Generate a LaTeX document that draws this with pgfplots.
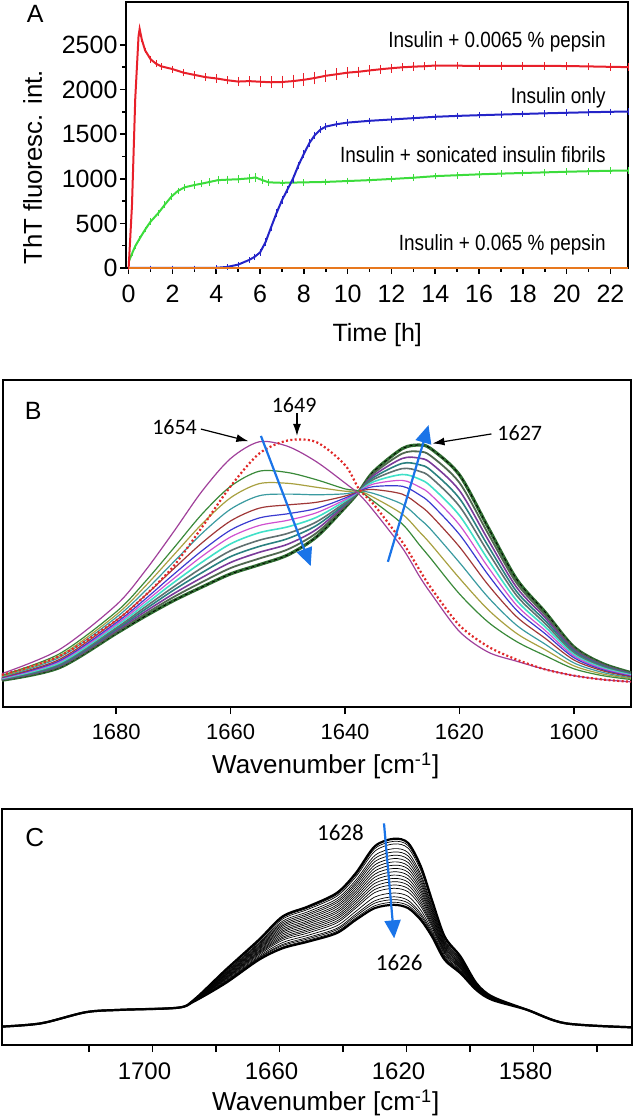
\documentclass[border=0pt]{standalone}
\usepackage{fontspec}
\setmainfont{Liberation Sans}
\newfontfamily\narrowfont[FakeStretch=0.86]{Liberation Sans}
\newfontfamily\carlito{Carlito}
\usepackage{pgfplots}
\usepackage{pgfplotstable}
\pgfplotsset{compat=1.18}
\usetikzlibrary{arrows.meta}

\definecolor{aRed}{HTML}{E8202A}
\definecolor{aBlue}{HTML}{2424C8}
\definecolor{aGreen}{HTML}{3CDC3C}
\definecolor{aOrange}{HTML}{E8781E}
\definecolor{arBlue}{HTML}{1A74E8}
\definecolor{bPurple}{HTML}{A0409A}
\definecolor{bRed}{HTML}{E02828}
\definecolor{bGreen}{HTML}{3A8A3A}
\definecolor{bOlive}{HTML}{A8A040}
\definecolor{bTeal}{HTML}{3A9AA0}
\definecolor{bBrown}{HTML}{A03838}
\definecolor{bBlue}{HTML}{3A3AD0}
\definecolor{bMagenta}{HTML}{D050D0}
\definecolor{bCyan}{HTML}{40E0C8}
\definecolor{bSlate}{HTML}{607070}
\definecolor{bDTeal}{HTML}{2A8080}
\definecolor{bViolet}{HTML}{7A3A9A}
\definecolor{bGrey}{HTML}{506850}
\definecolor{bFinal}{HTML}{2E6B30}

% ---- panel A: ThT kinetics (time, value, error) ----
\pgfplotstableread{
t v e
0 10 0
0.15 700 0
0.3 1900 0
0.45 2600 0
0.5 2680 0
0.6 2560 0
0.75 2440 0
1 2340 10
1.25 2290 10
1.5 2260 10
2 2230 12
2.5 2190 15
3 2165 15
3.5 2140 15
4 2125 20
4.5 2105 20
5 2090 25
5.5 2095 30
6 2088 35
6.5 2082 40
7 2085 45
7.5 2095 45
8 2110 45
8.5 2130 45
9 2155 40
9.5 2172 40
10 2190 35
10.5 2200 30
11 2215 30
11.5 2228 25
12 2240 25
12.5 2250 20
13 2257 20
13.5 2262 20
14 2270 20
15 2268 15
16 2265 15
17 2265 15
18 2266 15
19 2266 15
20 2264 15
21 2260 15
22 2255 15
22.8 2252 15
}\redA

\pgfplotstableread{
t v e
0 0 0
1 0 0
2 0 0
3 0 0
4 2 0
4.5 12 3
5 38 5
5.5 90 8
5.75 125 10
6 175 12
6.25 290 15
6.5 455 15
6.75 615 15
7 760 15
7.25 880 15
7.5 1000 15
7.75 1150 15
8 1280 15
8.25 1400 15
8.5 1490 12
8.75 1550 10
9 1585 10
9.5 1612 10
10 1630 10
11 1650 10
12 1665 10
13 1680 10
14 1695 10
15 1705 10
16 1713 10
17 1720 10
18 1727 10
19 1734 10
20 1740 10
21 1746 10
22 1751 10
22.8 1754 10
}\blueA

\pgfplotstableread{
t v e
0 70 0
0.15 160 0
0.3 245 0
0.5 330 0
0.75 430 5
1 520 8
1.35 615 10
1.65 710 10
1.95 800 10
2.25 865 10
2.56 905 10
3 930 15
3.32 945 15
3.7 965 15
4.08 985 20
4.5 990 20
5 995 20
5.5 1005 25
5.8 1015 25
6.1 985 15
6.4 960 10
7 955 10
8 960 10
9 965 10
10 975 10
11 985 10
12 998 10
13 1012 10
14 1030 10
15 1040 10
16 1050 10
17 1058 10
18 1065 10
19 1072 10
20 1079 10
21 1085 10
22 1090 10
22.8 1092 10
}\greenA

\pgfplotstableread{
t v
0 2
22.8 2
}\orangeA

% ---- panel B: FTIR spectra ----
\pgfplotstableread{
wn P R b24 b34 b44 b54 b62 b68 b74 b80 b85 b90 b95 F
1700 10.2 9.8 9.7 9.5 9.3 9.1 9.0 8.8 8.7 8.6 8.5 8.4 8.3 8.2
1690 17.5 15.5 16.2 15.6 15.1 14.5 14.1 13.8 13.4 13.1 12.8 12.6 12.3 12.0
1680 31.2 26.5 29.1 28.2 27.4 26.5 25.8 25.3 24.8 24.2 23.8 23.4 22.9 22.5
1675 41.5 34.0 38.2 36.8 35.4 34.0 32.9 32.1 31.3 30.5 29.8 29.1 28.4 27.7
1670 53.5 43.0 48.5 46.4 44.3 42.2 40.5 39.2 38.0 36.7 35.7 34.6 33.6 32.5
1665 66.0 55.0 59.0 56.0 53.1 50.2 47.8 46.1 44.3 42.6 41.1 39.6 38.2 36.7
1660 76.0 67.5 67.5 64.0 60.5 56.9 54.1 52.0 49.9 47.8 46.0 44.2 42.5 40.7
1655 81.1 77.5 72.1 68.3 64.6 60.8 57.8 55.5 53.3 51.0 49.1 47.3 45.4 43.5
1650 79.7 81.5 71.7 68.4 65.1 61.8 59.1 57.1 55.1 53.1 51.5 49.8 48.2 46.5
1645 75.0 81.0 69.5 67.2 64.9 62.6 60.7 59.4 58.0 56.6 55.5 54.3 53.2 52.0
1640 68.5 74.0 66.7 66.0 65.2 64.5 63.9 63.4 63.0 62.5 62.1 61.8 61.4 61.0
1637.5 65.0 66.5 66.0 66.0 66.0 66.0 66.0 66.0 66.0 66.0 66.0 66.0 66.0 66.0
1635 60.0 62.0 62.9 64.1 65.3 66.5 67.4 68.2 68.9 69.6 70.2 70.8 71.4 72.0
1630 48.7 50.5 56.0 59.0 62.0 65.1 67.5 69.3 71.1 72.9 74.5 76.0 77.5 79.0
1627 40.0 42.0 49.6 53.6 57.6 61.7 64.9 67.3 69.7 72.1 74.1 76.1 78.1 80.1
1625 34.8 36.5 45.4 49.8 54.3 58.7 62.2 64.9 67.5 70.2 72.4 74.6 76.8 79.0
1620 23.1 25.0 34.6 39.4 44.2 49.0 52.8 55.7 58.6 61.4 63.8 66.2 68.6 71.0
1615 16.8 18.5 26.0 29.8 33.6 37.4 40.5 42.8 45.1 47.4 49.3 51.2 53.1 55.0
1610 14.0 14.5 20.0 22.5 25.0 27.6 29.6 31.1 32.6 34.1 35.3 36.6 37.9 39.1
1605 11.5 11.5 15.7 17.5 19.2 21.0 22.4 23.4 24.5 25.5 26.4 27.3 28.1 29.0
1600 9.6 9.6 11.7 12.6 13.5 14.4 15.1 15.6 16.1 16.6 17.1 17.5 18.0 18.4
1595 8.4 8.4 9.6 10.1 10.6 11.1 11.4 11.7 12.0 12.3 12.6 12.8 13.1 13.3
1590 7.7 7.7 8.4 8.7 8.9 9.2 9.4 9.6 9.8 9.9 10.1 10.2 10.4 10.5
}\ftirB

% ---- panel C: FTIR spectra, black ----
\pgfplotstableread{
wn a00 a04 a08 a15 a20 a25 a30 a35 a40 a45 a50 a55 a60 a65 a70 a75 a82 a88 a92 a96 a100
1747.4 7.8 7.8 7.8 7.8 7.8 7.8 7.8 7.8 7.8 7.8 7.8 7.8 7.8 7.8 7.8 7.8 7.8 7.8 7.8 7.8 7.8
1735 9.2 9.2 9.2 9.2 9.2 9.2 9.2 9.2 9.2 9.2 9.2 9.2 9.2 9.2 9.2 9.2 9.2 9.2 9.2 9.2 9.2
1721 13.9 13.9 13.9 13.9 13.9 13.9 13.9 13.9 13.9 13.9 13.9 13.9 13.9 13.9 13.9 13.9 13.9 13.9 13.9 13.9 13.9
1710 14.9 14.9 14.9 14.9 14.9 14.9 14.9 14.9 14.9 14.9 14.9 14.9 14.9 14.9 14.9 14.9 14.9 14.9 14.9 14.9 14.9
1692 15.8 15.8 15.8 15.8 15.8 15.8 15.8 15.8 15.8 15.8 15.8 15.8 15.8 15.8 15.8 15.8 15.8 15.8 15.8 15.8 15.8
1687 19.1 19.1 19.0 19.0 19.0 18.9 18.9 18.9 18.8 18.8 18.8 18.7 18.7 18.6 18.6 18.6 18.5 18.5 18.5 18.4 18.4
1677 31.8 31.6 31.4 31.0 30.7 30.4 30.1 29.8 29.6 29.3 29.0 28.7 28.4 28.2 27.9 27.6 27.2 26.9 26.6 26.4 26.2
1666.5 44.6 44.3 43.9 43.3 42.9 42.5 42.0 41.6 41.2 40.8 40.4 39.9 39.5 39.1 38.7 38.2 37.6 37.1 36.8 36.4 36.1
1659 54.5 54.0 53.4 52.5 51.8 51.1 50.5 49.8 49.1 48.4 47.8 47.1 46.4 45.7 45.1 44.4 43.4 42.6 42.1 41.5 41.0
1651 58.7 58.1 57.5 56.5 55.7 55.0 54.2 53.5 52.7 52.0 51.3 50.5 49.8 49.0 48.3 47.5 46.5 45.6 45.0 44.4 43.8
1642 64.4 63.7 63.0 61.9 61.0 60.2 59.3 58.5 57.6 56.7 55.9 55.0 54.2 53.4 52.5 51.7 50.5 49.4 48.8 48.1 47.4
1636 72.8 72.0 71.2 69.8 68.8 67.9 66.9 65.9 64.9 63.9 62.9 61.9 60.9 59.9 58.9 58.0 56.6 55.4 54.6 53.8 53.0
1630 84.2 83.2 82.1 80.3 79.0 77.7 76.3 75.0 73.7 72.4 71.1 69.8 68.5 67.2 65.9 64.6 62.7 61.1 60.1 59.0 58.0
1624 87.4 86.3 85.2 83.2 81.8 80.4 79.0 77.6 76.2 74.8 73.4 72.0 70.6 69.2 67.8 66.4 64.4 62.8 61.6 60.5 59.4
1619.5 85.6 84.5 83.4 81.5 80.1 78.7 77.3 75.9 74.6 73.2 71.8 70.4 69.0 67.7 66.3 64.9 63.0 61.3 60.2 59.1 58.0
1615.5 75.7 74.8 73.9 72.3 71.2 70.0 68.9 67.8 66.6 65.5 64.4 63.2 62.1 60.9 59.8 58.7 57.1 55.7 54.8 53.9 53.0
1612 61.5 60.9 60.3 59.2 58.4 57.6 56.9 56.1 55.3 54.5 53.8 53.0 52.2 51.4 50.7 49.9 48.8 47.9 47.2 46.6 46.0
1608 46.0 45.6 45.2 44.5 44.0 43.5 43.0 42.5 42.0 41.5 41.1 40.6 40.1 39.6 39.1 38.6 37.9 37.3 36.9 36.5 36.1
1603 37.5 37.2 36.9 36.4 36.1 35.7 35.4 35.0 34.7 34.3 34.0 33.6 33.2 32.9 32.5 32.2 31.7 31.3 31.0 30.7 30.4
1598 26.2 26.1 26.0 25.8 25.6 25.5 25.3 25.2 25.0 24.9 24.8 24.6 24.5 24.3 24.2 24.0 23.8 23.6 23.5 23.4 23.3
1593 20.5 20.4 20.4 20.3 20.2 20.2 20.1 20.0 19.9 19.9 19.8 19.7 19.7 19.6 19.5 19.5 19.4 19.3 19.2 19.2 19.1
1582 14.9 14.9 14.9 14.9 14.9 14.9 14.9 14.9 14.9 14.9 14.9 14.9 14.9 14.9 14.9 14.9 14.9 14.9 14.9 14.9 14.9
1570 9.2 9.2 9.2 9.2 9.2 9.2 9.2 9.2 9.2 9.2 9.2 9.2 9.2 9.2 9.2 9.2 9.2 9.2 9.2 9.2 9.2
1549 7.5 7.5 7.5 7.5 7.5 7.5 7.5 7.5 7.5 7.5 7.5 7.5 7.5 7.5 7.5 7.5 7.5 7.5 7.5 7.5 7.5
}\ftirC

\pgfplotsset{
  panel/.style={
    scale only axis, anchor=south west, clip=false,
    axis line style={line width=1pt},
    tick pos=left, tick align=outside,
    every tick/.style={black, line width=0.8pt},
    /pgf/number format/assume math mode=true,
    /pgf/number format/1000 sep={},
  },
}

\begin{document}
\begin{tikzpicture}
\useasboundingbox (0,0) rectangle (316.5pt,558pt);

% ================= A =================
\begin{axis}[panel,
  at={(63.25pt,424pt)}, width=250.75pt, height=133pt,
  xmin=-0.1, xmax=22.8, ymin=0, ymax=2982,
  major tick length=3pt, minor tick length=2pt,
  xtick={0,2,...,22}, minor x tick num=1,
  ytick={0,500,...,2500}, minor y tick num=1,
  tick label style={font=\fontsize{12.5}{14}\selectfont},
  xticklabel style={yshift=-2pt},
  yticklabel style={xshift=2pt},
]
\addplot[aGreen, line width=1pt, error bars/.cd, y dir=both, y explicit,
  error bar style={line width=0.4pt}, error mark options={aGreen, mark size=1.2pt, line width=0.4pt}]
  table[x=t, y=v, y error=e]{\greenA};
\addplot[aBlue, line width=1pt, error bars/.cd, y dir=both, y explicit,
  error bar style={line width=0.4pt}, error mark options={aBlue, mark size=1.2pt, line width=0.4pt}]
  table[x=t, y=v, y error=e]{\blueA};
\addplot[aRed, line width=1pt, error bars/.cd, y dir=both, y explicit,
  error bar style={line width=0.4pt}, error mark options={aRed, mark size=1.2pt, line width=0.4pt}]
  table[x=t, y=v, y error=e]{\redA};
\addplot[aOrange, line width=1.2pt] table[x=t, y=v]{\orangeA};

\node[anchor=east, font=\narrowfont\fontsize{11}{13}\selectfont] at (axis cs:22.1,2533) {Insulin + 0.0065 \% pepsin};
\node[anchor=east, font=\narrowfont\fontsize{11}{13}\selectfont] at (axis cs:22.1,1906) {Insulin only};
\node[anchor=east, font=\narrowfont\fontsize{11}{13}\selectfont] at (axis cs:22.1,1267) {Insulin + sonicated insulin fibrils};
\node[anchor=east, font=\narrowfont\fontsize{11}{13}\selectfont] at (axis cs:22.1,258) {Insulin + 0.065 \% pepsin};

\node[rotate=90, font=\fontsize{12.9}{15}\selectfont] at (axis description cs:-0.187,0.378) {ThT fluoresc. int.};
\node[font=\fontsize{12.5}{15}\selectfont] at (axis description cs:0.5,-0.252) {Time [h]};
\node[font=\fontsize{12.5}{15}\selectfont] at (axis description cs:-0.182,0.955) {A};
\end{axis}

% ================= B =================
\begin{axis}[panel,
  at={(1.5pt,204.5pt)}, width=314pt, height=163.5pt,
  xmin=1590, xmax=1699.8, x dir=reverse, ymin=0, ymax=100,
  major tick length=3.5pt,
  xtick={1600,1620,1640,1660,1680}, ytick=\empty,
  tick label style={font=\fontsize{11}{12}\selectfont},
  xticklabel style={yshift=-1.75pt},
]
\addplot[smooth, bFinal, line width=1.6pt] table[x=wn, y=F]{\ftirB};
\addplot[smooth, black, line width=0.4pt, dash pattern=on 1.5pt off 1.5pt] table[x=wn, y=F]{\ftirB};
\addplot[smooth, bGrey, line width=0.9pt] table[x=wn, y=b95]{\ftirB};
\addplot[smooth, bViolet, line width=0.8pt] table[x=wn, y=b90]{\ftirB};
\addplot[smooth, bDTeal, line width=0.8pt] table[x=wn, y=b85]{\ftirB};
\addplot[smooth, bSlate, line width=0.8pt] table[x=wn, y=b80]{\ftirB};
\addplot[smooth, bCyan, line width=0.8pt] table[x=wn, y=b74]{\ftirB};
\addplot[smooth, bMagenta, line width=0.6pt] table[x=wn, y=b68]{\ftirB};
\addplot[smooth, bBlue, line width=0.6pt] table[x=wn, y=b62]{\ftirB};
\addplot[smooth, bBrown, line width=0.6pt] table[x=wn, y=b54]{\ftirB};
\addplot[smooth, bTeal, line width=0.6pt] table[x=wn, y=b44]{\ftirB};
\addplot[smooth, bOlive, line width=0.6pt] table[x=wn, y=b34]{\ftirB};
\addplot[smooth, bGreen, line width=0.6pt] table[x=wn, y=b24]{\ftirB};
\addplot[smooth, bPurple, line width=0.6pt] table[x=wn, y=P]{\ftirB};
\addplot[smooth, bRed, line width=1.1pt, dash pattern=on 1pt off 1.2pt] table[x=wn, y=R]{\ftirB};

\draw[-{Latex[length=6pt,width=4pt]}, line width=0.6pt] (axis cs:1665.2,85) -- (axis cs:1656.9,81.3);
\draw[-{Latex[length=6pt,width=4pt]}, line width=0.6pt] (axis cs:1648.4,89.8) -- (axis cs:1648.4,82.9);
\draw[-{Latex[length=6pt,width=4pt]}, line width=0.6pt] (axis cs:1614.4,83.5) -- (axis cs:1624.7,80.6);
\draw[-{Triangle[length=9pt,width=8pt]}, line width=1.1pt, arBlue] (axis cs:1654.7,82.9) -- (axis cs:1646,43.1);
\draw[-{Triangle[length=9pt,width=8pt]}, line width=1.1pt, arBlue] (axis cs:1632.5,44.4) -- (axis cs:1625.4,86.2);

\node[font=\carlito\fontsize{11}{13}\selectfont] at (axis cs:1669.8,85.7) {1654};
\node[font=\carlito\fontsize{11}{13}\selectfont] at (axis cs:1648.9,92.3) {1649};
\node[font=\carlito\fontsize{11}{13}\selectfont] at (axis cs:1609.45,83.7) {1627};

\node[font=\fontsize{13}{15}\selectfont] at (axis description cs:0.514,-0.18) {Wavenumber [cm\textsuperscript{-1}]};
\node[font=\fontsize{12.5}{15}\selectfont] at (axis description cs:0.048,0.905) {B};
\end{axis}

% ================= C =================
\begin{axis}[panel,
  at={(1pt,35.5pt)}, width=315pt, height=118pt,
  xmin=1549, xmax=1747.4, x dir=reverse, ymin=0, ymax=100,
  major tick length=3.5pt,
  xtick={1560,1580,...,1720},
  xticklabels={,1580,,1620,,1660,,1700,},
  ytick=\empty,
  tick label style={font=\fontsize{12}{13}\selectfont},
  xticklabel style={xshift=-4pt, yshift=-2pt},
]
\pgfplotsinvokeforeach{a04,a08,a15,a20,a25,a30,a35,a40,a45,a50,a55,a60,a65,a70,a75,a82,a88,a92,a96}{
  \addplot[smooth, black, line width=0.35pt] table[x=wn, y=#1]{\ftirC};
}
\addplot[smooth, black, line width=1.1pt] table[x=wn, y=a00]{\ftirC};
\addplot[smooth, black, line width=1.1pt] table[x=wn, y=a100]{\ftirC};

\draw[-{Triangle[length=9pt,width=8pt]}, line width=1.1pt, arBlue] (axis cs:1627.1,93.9) -- (axis cs:1623.9,45.2);
\node[font=\carlito\fontsize{11.5}{13}\selectfont] at (axis cs:1640.8,89.8) {1628};
\node[font=\carlito\fontsize{11.5}{13}\selectfont] at (axis cs:1622.3,34.9) {1626};

\node[font=\fontsize{13}{15}\selectfont] at (axis description cs:0.514,-0.246) {Wavenumber [cm\textsuperscript{-1}]};
\node[font=\fontsize{13}{15}\selectfont] at (axis description cs:0.052,0.877) {C};
\end{axis}
\end{tikzpicture}
\end{document}
